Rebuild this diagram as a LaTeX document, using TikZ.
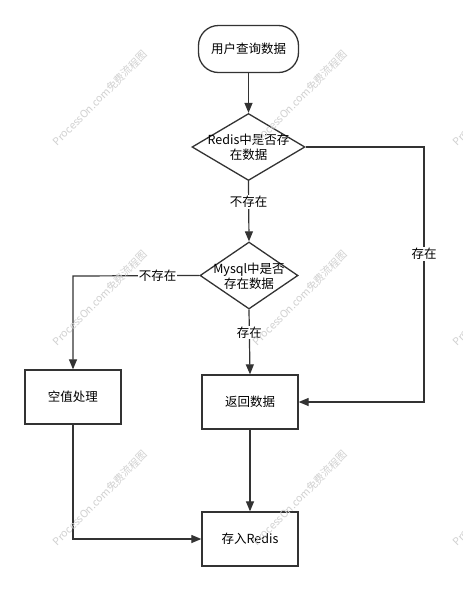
\documentclass[tikz,border=0pt]{standalone}
\usepackage{fontspec}
\setmainfont{Noto Sans CJK SC}
\usetikzlibrary{arrows.meta,shapes.geometric}
\begin{document}
\begin{tikzpicture}[x=1pt,y=-1pt,
  line/.style={draw=black!80, line width=1.2pt},
  arr/.style={line, -{Triangle[length=10pt,width=8pt]}},
  box/.style={draw=black!80, line width=1.3pt, minimum width=96pt, minimum height=54pt, inner sep=0pt, font=\fontsize{12.5}{15}\selectfont},
  term/.style={box, minimum width=100pt, minimum height=47pt, rounded corners=20pt},
  dia/.style={draw=black!80, line width=1.3pt, diamond, inner sep=0pt},
  dtext/.style={align=center, font=\fontsize{12.5}{15}\selectfont, inner sep=0pt},
  lbl/.style={fill=white, inner sep=1pt, font=\fontsize{12.5}{15}\selectfont},
  wm/.style={rotate=45, text=black!18, font=\fontsize{10.5}{12}\selectfont, inner sep=0pt}]
\useasboundingbox (0,0) rectangle (463,590);
\fill[white] (0,0) rectangle (463,590);

\node[term] (start) at (248.5,49) {用户查询数据};
\node[dia, minimum width=113pt, minimum height=67pt] (d1) at (248.5,147) {};
\node[dtext] (d1t) at (248.5,147) {Redis中是否存\\在数据};
\node[dia, minimum width=98pt, minimum height=67pt] (d2) at (249,275.5) {};
\node[dtext] (d2t) at (249,276) {Mysql中是否\\存在数据};
\node[box] (empty) at (73,397) {空值处理};
\node[box] (ret) at (250,402) {返回数据};
\node[box] (save) at (250,539) {存入Redis};

\coordinate (c1) at (424,147);
\coordinate (c2) at (424,402);
\coordinate (c3) at (73,276);
\coordinate (c4) at (73,539);

\draw[arr] (start.south) -- (d1.north);
\draw[arr] (d1.south) -- node[lbl, pos=0.35] {不存在} (d2.north);
\draw[arr] (d2.west) -- node[lbl, pos=0.33] {不存在} (c3) -- (empty.north);
\draw[arr] (d2.south) -- node[lbl, pos=0.35] {存在} (ret.north);
\draw[arr] (d1.east) -- (c1) -- node[lbl, pos=0.42] {存在} (c2) -- (ret.east);
\draw[arr] (empty.south) -- (c4) -- (save.west);
\draw[arr] (ret.south) -- (save.north);

\begin{scope}
\clip (0,0) rectangle (463,590);
\foreach \wx in {100,300,500}{
  \foreach \wy in {98,298,498}{
    \node[wm] at (\wx,\wy) {ProcessOn.com免费流程图};
  }
}
\end{scope}
\end{tikzpicture}
\end{document}
